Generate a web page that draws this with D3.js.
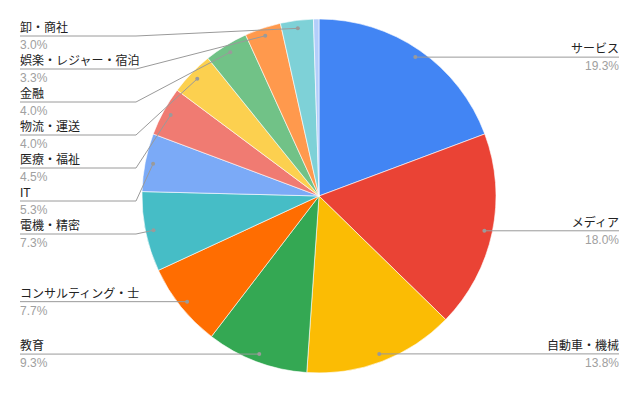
<!DOCTYPE html>
<html><head><meta charset="utf-8">
<script src="https://cdn.jsdelivr.net/npm/d3@7"></script>
<style>
html,body{margin:0;padding:0;background:#fff;}
svg{display:block;font-family:Arial,"Liberation Sans","Noto Sans CJK JP",sans-serif;}
</style></head>
<body>
<svg id="chart" width="640" height="396"></svg>
<script>
const categories = ["サービス","メディア","自動車・機械","教育","コンサルティング・士","電機・精密","IT","医療・福祉","物流・運送","金融","娯楽・レジャー・宿泊","卸・商社","その他"];
const values = [19.3,18.0,13.8,9.3,7.7,7.3,5.3,4.5,4.0,4.0,3.3,3.0,0.5];
const colors = ["#4285F4","#EA4335","#FBBC04","#34A853","#FF6D01","#46BDC6","#7BAAF7","#F07B72","#FCD04F","#71C287","#FF994D","#7ED1D7","#B3CEFB"];
const showLabel = [true,true,true,true,true,true,true,true,true,true,true,true,false];

const svg = d3.select("#chart");
const cx = 319, cy = 196, R = 177, dotR = 169;
const data = categories.map((c,i)=>({name:c, value:values[i], color:colors[i], show:showLabel[i]}));
const total = d3.sum(values);

const pie = d3.pie().value(d=>d.value).sort(null).startAngle(0).endAngle(2*Math.PI);
const arcs = pie(data);
const arc = d3.arc().innerRadius(0).outerRadius(R);
const g = svg.append("g").attr("transform",`translate(${cx},${cy})`);
g.selectAll("path").data(arcs).enter().append("path")
  .attr("d",arc).attr("fill",d=>d.data.color)
  .attr("stroke","#fff").attr("stroke-width",0.6);

// label layout
const labels = arcs.filter(a=>a.data.show).map(a=>{
  const m = (a.startAngle+a.endAngle)/2;
  return {a, name:a.data.name, pct:(a.data.value/total*100).toFixed(1)+"%",
    dx: cx + dotR*Math.sin(m), dy: cy - dotR*Math.cos(m), left: m > Math.PI};
});
const gap = 33, minY = 36;
["left","right"].forEach(side=>{
  const arr = labels.filter(l=> side==="left" ? l.left : !l.left).sort((p,q)=>p.dy-q.dy);
  let prev = -Infinity;
  arr.forEach(l=>{
    l.y = Math.max(l.dy, prev+gap, minY);
    prev = l.y;
  });
});

const lg = svg.append("g");
labels.forEach(l=>{
  const textX = l.left ? 20 : 619;
  const kneeX = l.left ? 136 : 504;
  const pts = [[textX,l.y],[kneeX,l.y],[l.dx,l.dy]];
  lg.append("path").attr("d",d3.line()(pts)).attr("fill","none")
    .attr("stroke","#9a9a9a").attr("stroke-width",1);
  lg.append("circle").attr("cx",l.dx).attr("cy",l.dy).attr("r",2).attr("fill","#9a9a9a");
  lg.append("text").attr("x",textX).attr("y",l.y-4)
    .attr("text-anchor",l.left?"start":"end").attr("font-size",12).attr("fill","#222")
    .text(l.name);
  lg.append("text").attr("x",textX).attr("y",l.y+13)
    .attr("text-anchor",l.left?"start":"end").attr("font-size",12).attr("fill","#a0a0a0")
    .text(l.pct);
});
</script>
</body></html>
